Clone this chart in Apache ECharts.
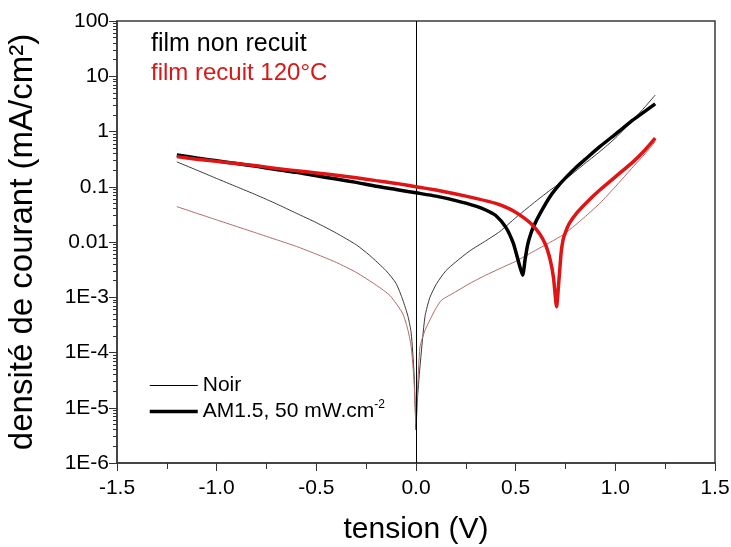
<!DOCTYPE html>
<html>
<head>
<meta charset="utf-8">
<script src="https://cdn.jsdelivr.net/npm/echarts@6/dist/echarts.min.js"></script>
<style>html,body{margin:0;padding:0;background:#fff}#c{width:731px;height:547px}</style>
</head>
<body>
<div id="c"></div>
<script>
// tension (V) and current density (mA/cm2)
var vDarkNR = [-1.2,-1.1,-1.0,-0.9,-0.8,-0.7,-0.6,-0.5,-0.4,-0.3,-0.233,-0.15,-0.1,-0.066,-0.04,-0.024,-0.01,-0.004,0,0.006,0.02,0.045,0.07,0.104,0.15,0.2,0.27,0.35,0.421,0.5,0.588,0.67,0.755,0.84,0.922,1.0,1.089,1.15,1.2];
var jDarkNR = [0.282,0.2,0.141,0.1,0.0708,0.049,0.0331,0.0224,0.0145,8.91e-3,5.75e-3,3.02e-3,1.78e-3,8.91e-4,4.47e-4,2.24e-4,4.27e-5,1e-5,3.98e-6,1.26e-5,5.5e-5,4.47e-4,1e-3,1.78e-3,3.02e-3,4.37e-3,6.92e-3,0.0105,0.0155,0.0275,0.0501,0.0851,0.141,0.251,0.432,0.759,1.62,2.82,4.57];

var vDarkR = [-1.2,-1.1,-1.0,-0.9,-0.8,-0.7,-0.6,-0.5,-0.4,-0.3,-0.2,-0.13,-0.066,-0.04,-0.024,-0.01,-0.004,0,0.006,0.02,0.045,0.07,0.1,0.129,0.2,0.27,0.35,0.421,0.5,0.6,0.738,0.83,0.922,1.0,1.089,1.15,1.2];
var jDarkR = [0.0437,0.0331,0.0251,0.0191,0.0145,0.011,8.32e-3,6.03e-3,4.27e-3,2.82e-3,1.66e-3,1.07e-3,5.01e-4,2.51e-4,1.26e-4,3.16e-5,1e-5,5.01e-6,1.58e-5,1.26e-4,2.51e-4,3.89e-4,6.31e-4,8.91e-4,1.26e-3,1.78e-3,2.51e-3,3.31e-3,4.47e-3,7.08e-3,0.0135,0.0251,0.0501,0.1,0.229,0.398,0.661];

var vLightNR = [-1.2,-1.1,-1.0,-0.9,-0.8,-0.7,-0.6,-0.5,-0.4,-0.3,-0.2,-0.1,0,0.1,0.2,0.3,0.35,0.4,0.45,0.488,0.51,0.535,0.548,0.56,0.575,0.59,0.62,0.672,0.72,0.755,0.8,0.85,0.922,1.0,1.089,1.15,1.2];
var jLightNR = [0.376,0.331,0.295,0.263,0.234,0.204,0.182,0.158,0.138,0.120,0.102,0.0891,0.0776,0.0676,0.0562,0.0447,0.0380,0.0302,0.0186,0.00955,0.00501,0.00251,0.00501,0.00891,0.0138,0.0191,0.0316,0.0661,0.110,0.151,0.219,0.316,0.531,0.891,1.62,2.34,3.16];

var vLightR = [-1.2,-1.1,-1.0,-0.9,-0.8,-0.7,-0.6,-0.5,-0.4,-0.3,-0.2,-0.1,0,0.1,0.2,0.3,0.4,0.45,0.5,0.54,0.58,0.62,0.65,0.675,0.69,0.705,0.718,0.728,0.738,0.75,0.77,0.805,0.86,0.922,1.0,1.089,1.15,1.2];
var jLightR = [0.351,0.316,0.288,0.263,0.240,0.214,0.195,0.178,0.162,0.145,0.129,0.115,0.1,0.0871,0.0741,0.0617,0.0501,0.0427,0.0347,0.0275,0.0209,0.0141,8.91e-3,4.47e-3,2.24e-3,6.76e-4,2.24e-3,6.31e-3,0.011,0.0151,0.0219,0.0331,0.0537,0.0871,0.151,0.282,0.468,0.759];

var yTickValues = [100,10,1,0.1,0.01,0.001,0.0001,0.00001,0.000001];
var yTickLabels = ['100','10','1','0.1','0.01','1E-3','1E-4','1E-5','1E-6'];
var yMinorMantissas = [2,3,4,5,6,7,8,9];
var yMinorDecades = [-6,-5,-4,-3,-2,-1,0,1];
var legendNames = ['Noir','AM1.5, 50 mW.cm-2'];

function pairs(xs, ys){ return xs.map(function(x,i){return [x, ys[i]];}); }
var yMinorTicks = [];
yMinorDecades.forEach(function(d){ yMinorMantissas.forEach(function(m){ yMinorTicks.push(m*Math.pow(10,d)); }); });

var FONT = 'Liberation Sans, Arial, sans-serif';
var chart = echarts.init(document.getElementById('c'), null, {renderer:'canvas'});
chart.setOption({
  animation: false,
  backgroundColor: '#fff',
  grid: {left:117, right:16, top:21, bottom:84, outerBoundsMode:'none', containLabel:false,
         show:true, borderColor:'#3a3a3a', borderWidth:1.5, backgroundColor:'transparent'},
  graphic: [
    {type:'text', left:151, top:32, style:{text:'film non recuit', fill:'#000', font:'25px '+FONT}},
    {type:'text', left:151, top:61, style:{text:'film recuit 120°C', fill:'#d81818', font:'24px '+FONT}}
  ],
  legend: {
    left: 143, top: 370, orient:'vertical', itemWidth:48, itemHeight:14, itemGap:3,
    itemStyle: {opacity: 0},
    data: [{name: legendNames[0], lineStyle:{width:1}}, {name: legendNames[1], lineStyle:{width:3.5}}],
    textStyle: {fontFamily: FONT, fontSize: 21, color:'#000', rich:{sup:{fontSize:12, fontFamily:FONT, color:'#000', padding:[0,0,13,0]}}},
    formatter: function(n){ return n.replace('-2','{sup|-2}'); }
  },
  xAxis: {
    type:'value', min:-1.5, max:1.5, interval:0.5,
    name:'tension (V)', nameLocation:'middle', nameGap:52,
    nameTextStyle:{fontFamily:FONT, fontSize:30, color:'#000'},
    axisLine:{onZero:false, lineStyle:{color:'#3a3a3a', width:1.5}},
    axisTick:{show:true, inside:false, length:8, lineStyle:{color:'#333'}},
    minorTick:{show:true, splitNumber:2, length:6, lineStyle:{color:'#333'}},
    splitLine:{show:false},
    axisLabel:{fontFamily:FONT, fontSize:21, color:'#000', margin:15, formatter:function(v){return v.toFixed(1);}}
  },
  yAxis: [{
    type:'log', min:1e-6, max:100, logBase:10, position:'left',
    name:'densité de courant (mA/cm²)', nameLocation:'middle', nameGap:78,
    nameTextStyle:{fontFamily:FONT, fontSize:33, color:'#000'},
    axisLine:{onZero:false, lineStyle:{color:'#3a3a3a', width:1.5}},
    axisTick:{show:true, length:8, lineStyle:{color:'#333'}},
    splitLine:{show:false},
    axisLabel:{fontFamily:FONT, fontSize:21, color:'#000', margin:8, formatter:function(v){
      for (var i=0;i<yTickValues.length;i++){ if (Math.abs(Math.log10(v)-Math.log10(yTickValues[i]))<1e-6) return yTickLabels[i]; }
      return '';
    }}
  }, {
    type:'log', min:1e-6, max:100, logBase:10, position:'left', offset:0,
    axisLine:{show:false, onZero:false},
    axisTick:{show:true, length:4, customValues: yMinorTicks, lineStyle:{color:'#333', width:1}},
    axisLabel:{show:false},
    splitLine:{show:false}
  }],
  series: [
    {name:'Noir', type:'line', data:[], symbol:'none', color:'#000', lineStyle:{width:1, color:'#000'}},
    {name:'AM1.5, 50 mW.cm-2', type:'line', data:[], symbol:'none', color:'#000', lineStyle:{width:3.5, color:'#000'}},
    {type:'line', data:pairs(vDarkNR,jDarkNR), symbol:'none', smooth:0.2, lineStyle:{width:1, color:'#3a3a3a'}, z:3,
     markLine:{silent:true, symbol:'none', label:{show:false}, lineStyle:{type:'solid', color:'#000', width:1}, data:[{xAxis:0}]}},
    {type:'line', data:pairs(vDarkR,jDarkR), symbol:'none', smooth:0.2, lineStyle:{width:1, color:'#b06a6a'}, z:3},
    {type:'line', data:pairs(vLightNR,jLightNR), symbol:'none', smooth:0.2, lineStyle:{width:3.5, color:'#000'}, z:4},
    {type:'line', data:pairs(vLightR,jLightR), symbol:'none', smooth:0.2, lineStyle:{width:3.5, color:'#e01414'}, z:5}
  ]
});
</script>
</body>
</html>
